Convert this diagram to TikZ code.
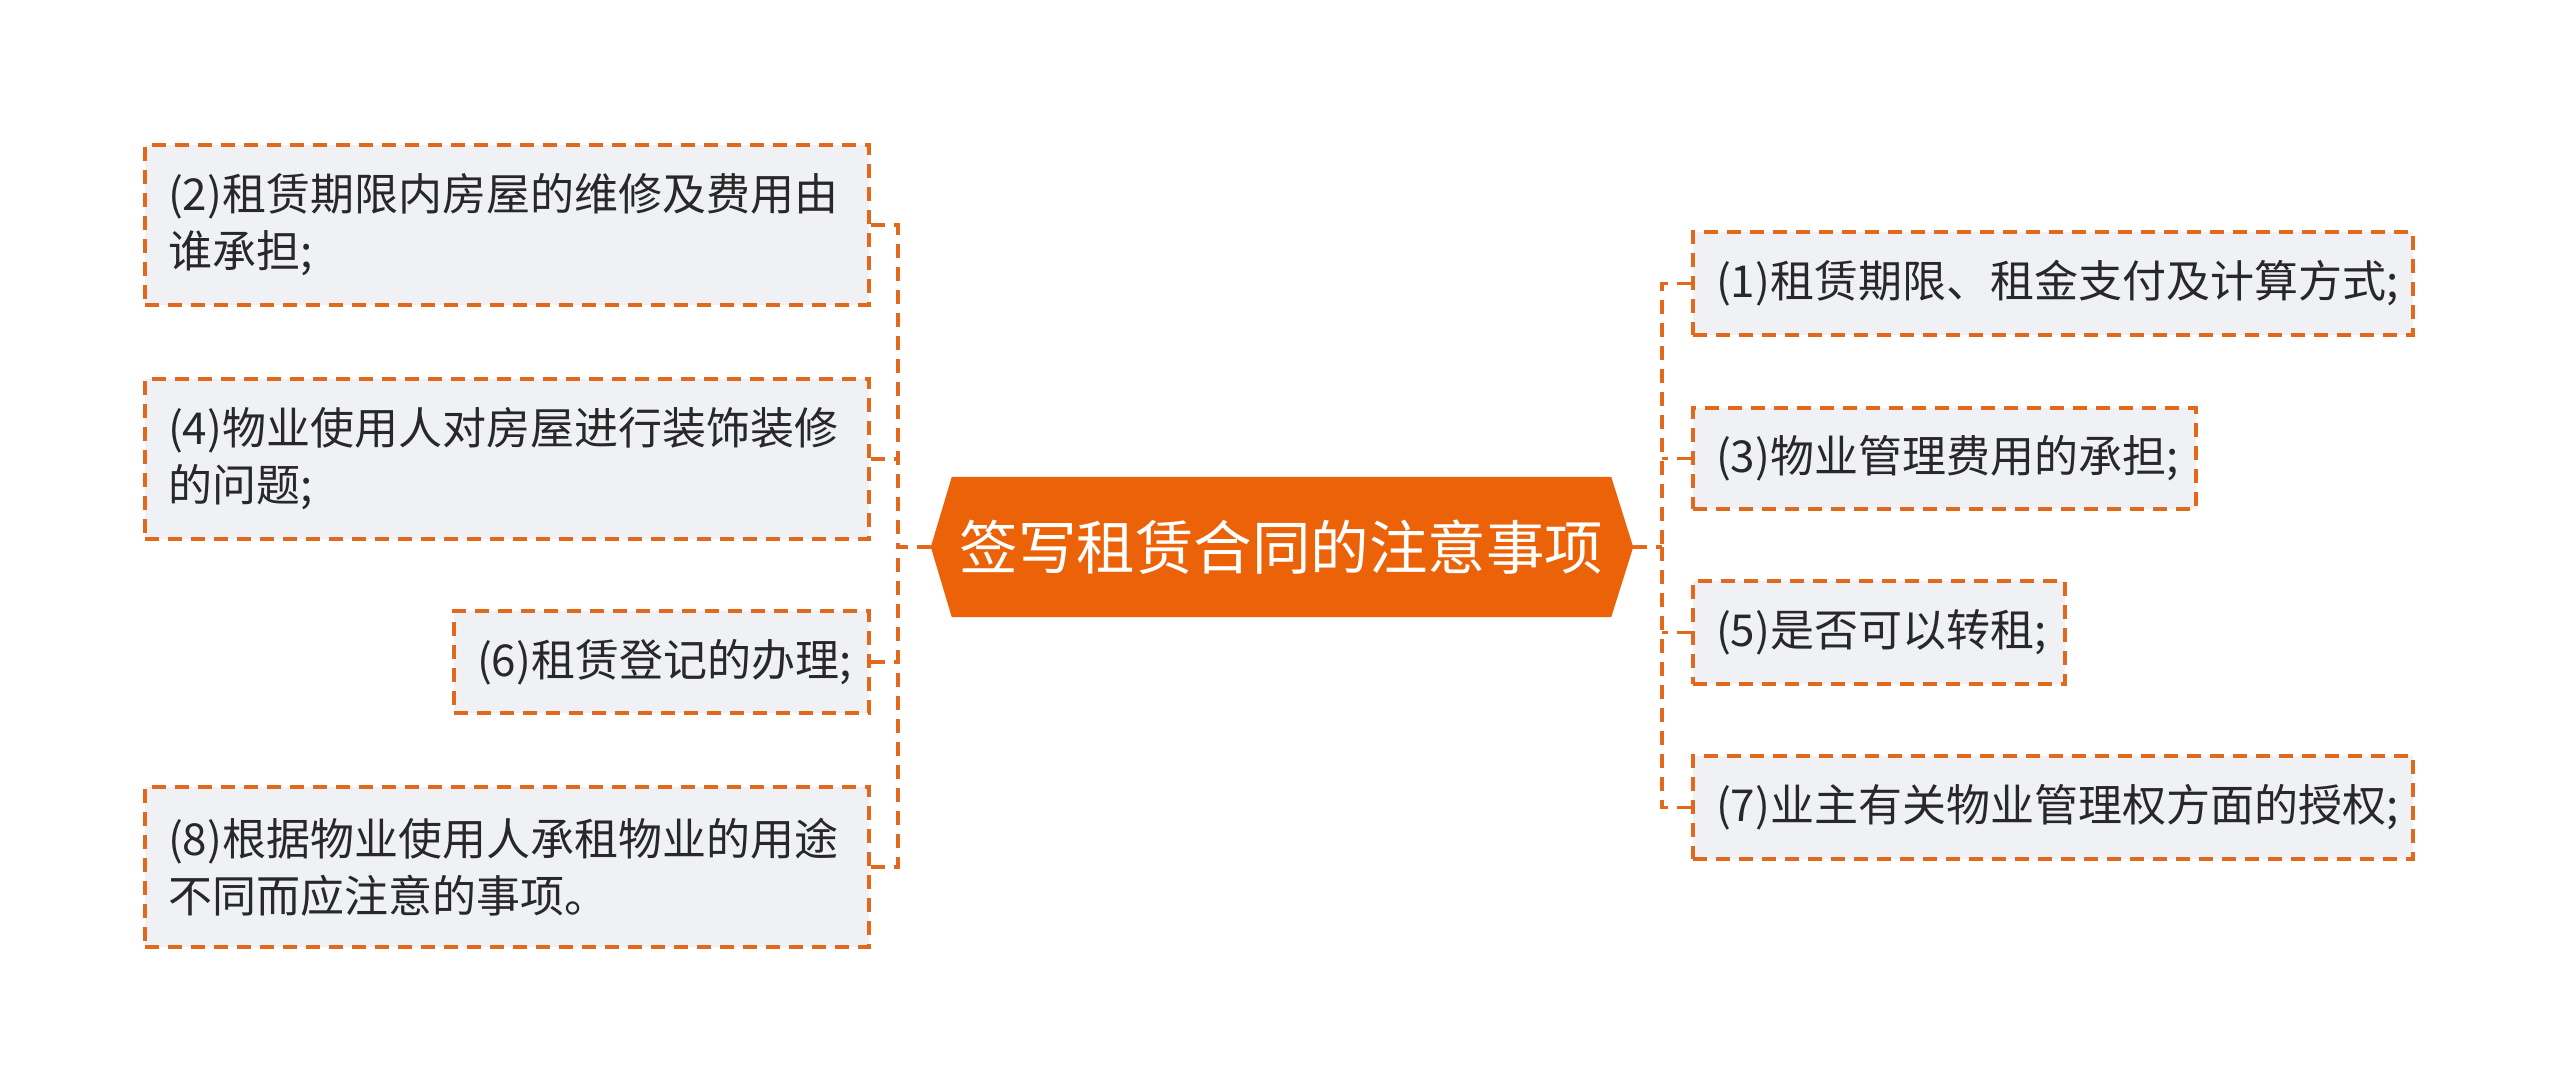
\documentclass[tikz,border=0pt]{standalone}
\usepackage{fontspec}
\setmainfont{Noto Sans CJK SC}
\usetikzlibrary{calc,backgrounds}
\definecolor{accent}{RGB}{226,104,28}
\definecolor{rootfill}{RGB}{236,98,8}
\definecolor{leaffill}{RGB}{239,241,244}
\definecolor{txt}{RGB}{40,40,40}
\tikzset{
  leaf/.style={draw=accent, line width=3.5pt, dash pattern=on 14pt off 9pt, fill=leaffill,
    rectangle, align=left, text=txt, font=\fontsize{44}{57}\selectfont,
    inner xsep=23pt, inner ysep=0pt, anchor=center},
  rootnode/.style={rectangle, minimum width=659pt, minimum height=140pt, inner sep=0pt,
    text=white, font=\fontsize{58.5}{66}\selectfont},
  conn/.style={draw=accent, line width=3.5pt, dash pattern=on 14pt off 9pt}
}
\begin{document}
\begin{tikzpicture}[x=1pt,y=-1pt]
\useasboundingbox (0,0) rectangle (2560,1092);
\node[rootnode] (root) at (1281.5,547) {签写租赁合同的注意事项};
\coordinate (rootL) at ($(root.west)+(-21,0)$);
\coordinate (rootR) at ($(root.east)+(22,0)$);
\begin{scope}[on background layer]
\fill[white] (0,0) rectangle (2560,1092);
\fill[rootfill] (root.north west) -- (root.north east) -- (rootR) -- (root.south east) -- (root.south west) -- (rootL) -- cycle;
\end{scope}
% left
\node[leaf, text width=678pt, minimum height=160pt] (n2) at (507,225) {(2)租赁期限内房屋的维修及费用由\\谁承担;};
\node[leaf, text width=678pt, minimum height=160pt] (n4) at (507,459) {(4)物业使用人对房屋进行装饰装修\\的问题;};
\node[leaf, text width=369pt, minimum height=102pt] (n6) at (661.5,662) {(6)租赁登记的办理;};
\node[leaf, text width=678pt, minimum height=160pt] (n8) at (507,867) {(8)根据物业使用人承租物业的用途\\不同而应注意的事项。};
% right
\node[leaf, text width=674pt, minimum height=103pt] (n1) at (2053,283.5) {(1)租赁期限、租金支付及计算方式;};
\node[leaf, text width=457pt, minimum height=101pt] (n3) at (1944.5,458.5) {(3)物业管理费用的承担;};
\node[leaf, text width=326pt, minimum height=103pt] (n5) at (1879,632.5) {(5)是否可以转租;};
\node[leaf, text width=674pt, minimum height=103pt] (n7) at (2053,807.5) {(7)业主有关物业管理权方面的授权;};
\coordinate (busL) at (898,547);
\coordinate (busR) at (1662,547);
\draw[conn] (rootL) -- (busL);
\draw[conn] (n2.east) -| (busL);
\draw[conn] (n8.east) -| (busL);
\draw[conn] (n4.east) -- (n4.east -| busL);
\draw[conn] (n6.east) -- (n6.east -| busL);
\draw[conn] (rootR) -- (busR);
\draw[conn] (n1.west) -| (busR);
\draw[conn] (n7.west) -| (busR);
\draw[conn] (n3.west) -- (n3.west -| busR);
\draw[conn] (n5.west) -- (n5.west -| busR);
\end{tikzpicture}
\end{document}
